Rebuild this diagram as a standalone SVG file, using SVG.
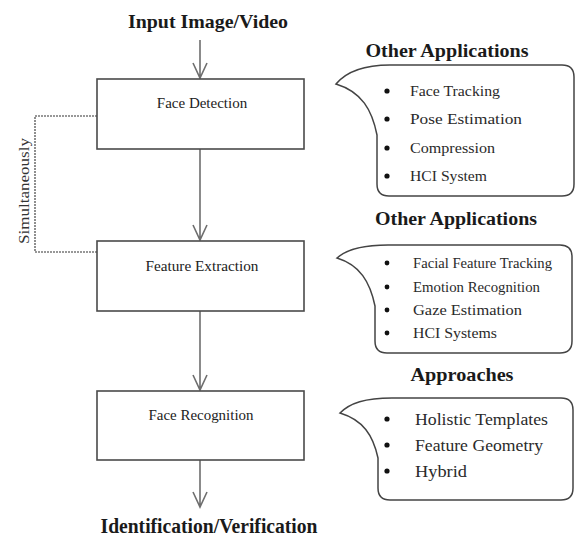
<svg xmlns="http://www.w3.org/2000/svg" width="575" height="537" viewBox="0 0 575 537">
<style>
.bg{fill:#fff}
.box{fill:#fff;stroke:#4a4a4a;stroke-width:1.6}
.lbl{font-family:"Liberation Serif",serif;font-size:15px;fill:#222;text-anchor:middle}
.hd{font-family:"Liberation Serif",serif;font-weight:bold;fill:#1a1a1a;text-anchor:middle}
.call{fill:#fff;stroke:#444;stroke-width:1.5}
.it{font-family:"Liberation Serif",serif;fill:#2a2a2a}
.bul{fill:#111}
.arr{stroke:#6e6e6e;stroke-width:1.6;fill:none}
.dash{stroke:#333;stroke-width:1.1;fill:none;stroke-dasharray:2 1}
</style>
<rect class="bg" x="0" y="0" width="575" height="537"/>

<text class="hd" x="208" y="28" font-size="19" textLength="160" lengthAdjust="spacingAndGlyphs">Input Image/Video</text>
<text class="hd" x="209" y="533" font-size="20" textLength="217" lengthAdjust="spacingAndGlyphs">Identification/Verification</text>

<g id="connectors">
  <path class="arr" d="M200,40 V78 M193,63 L200,78 L207,63"/>
  <path class="arr" d="M200,149 V240 M193,225 L200,240 L207,225"/>
  <path class="arr" d="M200,311 V390 M193,375 L200,390 L207,375"/>
  <path class="arr" d="M200,460 V507 M193,492 L200,507 L207,492"/>
  <path class="dash" d="M97,116 H35 V252 H97"/>
  <text x="29" y="191" transform="rotate(-90 29 191)" font-family="Liberation Serif, serif" font-size="14" fill="#333" text-anchor="middle" textLength="106" lengthAdjust="spacingAndGlyphs">Simultaneously</text>
</g>

<g id="face-detection">
  <rect class="box" x="97" y="79" width="207" height="70"/>
  <text class="lbl" x="202" y="108">Face Detection</text>
</g>
<g id="feature-extraction">
  <rect class="box" x="97" y="241" width="207" height="70"/>
  <text class="lbl" x="202" y="271" textLength="113" lengthAdjust="spacingAndGlyphs">Feature Extraction</text>
</g>
<g id="face-recognition">
  <rect class="box" x="97" y="391" width="207" height="69"/>
  <text class="lbl" x="201" y="420" textLength="105" lengthAdjust="spacingAndGlyphs">Face Recognition</text>
</g>

<g id="apps1">
  <text class="hd" x="447" y="57" font-size="18" textLength="163" lengthAdjust="spacingAndGlyphs">Other Applications</text>
  <path class="call" d="M336,84 C346,72 362,65 390,65 H562 Q574,65 574,77 V184 Q574,196 562,196 H389 Q377,196 377,184 V135 C372,110 362,92 336,84 Z"/>
  <circle class="bul" cx="387" cy="91" r="2.6"/>
  <circle class="bul" cx="387" cy="119" r="2.6"/>
  <circle class="bul" cx="387" cy="148" r="2.6"/>
  <circle class="bul" cx="387" cy="176" r="2.6"/>
  <text class="it" x="410" y="96" font-size="15" textLength="90" lengthAdjust="spacingAndGlyphs">Face Tracking</text>
  <text class="it" x="410" y="124" font-size="15" textLength="112" lengthAdjust="spacingAndGlyphs">Pose Estimation</text>
  <text class="it" x="410" y="153" font-size="15" textLength="85" lengthAdjust="spacingAndGlyphs">Compression</text>
  <text class="it" x="410" y="181" font-size="15" textLength="77" lengthAdjust="spacingAndGlyphs">HCI System</text>
</g>

<g id="apps2">
  <text class="hd" x="456" y="225" font-size="18" textLength="162" lengthAdjust="spacingAndGlyphs">Other Applications</text>
  <path class="call" d="M337,258 C347,249 362,245 388,245 H560 Q572,245 572,257 V341 Q572,353 560,353 H387 Q375,353 375,341 V306 C370,282 360,265 337,258 Z"/>
  <circle class="bul" cx="387" cy="263" r="2.4"/>
  <circle class="bul" cx="387" cy="287" r="2.4"/>
  <circle class="bul" cx="387" cy="310" r="2.4"/>
  <circle class="bul" cx="387" cy="333" r="2.4"/>
  <text class="it" x="413" y="268" font-size="14" textLength="139" lengthAdjust="spacingAndGlyphs">Facial Feature Tracking</text>
  <text class="it" x="413" y="292" font-size="14" textLength="127" lengthAdjust="spacingAndGlyphs">Emotion Recognition</text>
  <text class="it" x="413" y="315" font-size="14" textLength="109" lengthAdjust="spacingAndGlyphs">Gaze Estimation</text>
  <text class="it" x="413" y="338" font-size="14" textLength="84" lengthAdjust="spacingAndGlyphs">HCI Systems</text>
</g>

<g id="approaches">
  <text class="hd" x="462" y="381" font-size="19" textLength="103" lengthAdjust="spacingAndGlyphs">Approaches</text>
  <path class="call" d="M340,413 C350,403 365,398 392,398 H561 Q573,398 573,410 V488 Q573,500 561,500 H390 Q378,500 378,488 V458 C373,435 363,420 340,413 Z"/>
  <circle class="bul" cx="387" cy="419" r="2.6"/>
  <circle class="bul" cx="387" cy="445" r="2.6"/>
  <circle class="bul" cx="387" cy="471" r="2.6"/>
  <text class="it" x="415" y="425" font-size="17" textLength="133" lengthAdjust="spacingAndGlyphs">Holistic Templates</text>
  <text class="it" x="415" y="451" font-size="17" textLength="128" lengthAdjust="spacingAndGlyphs">Feature Geometry</text>
  <text class="it" x="415" y="477" font-size="17" textLength="52" lengthAdjust="spacingAndGlyphs">Hybrid</text>
</g>
</svg>
